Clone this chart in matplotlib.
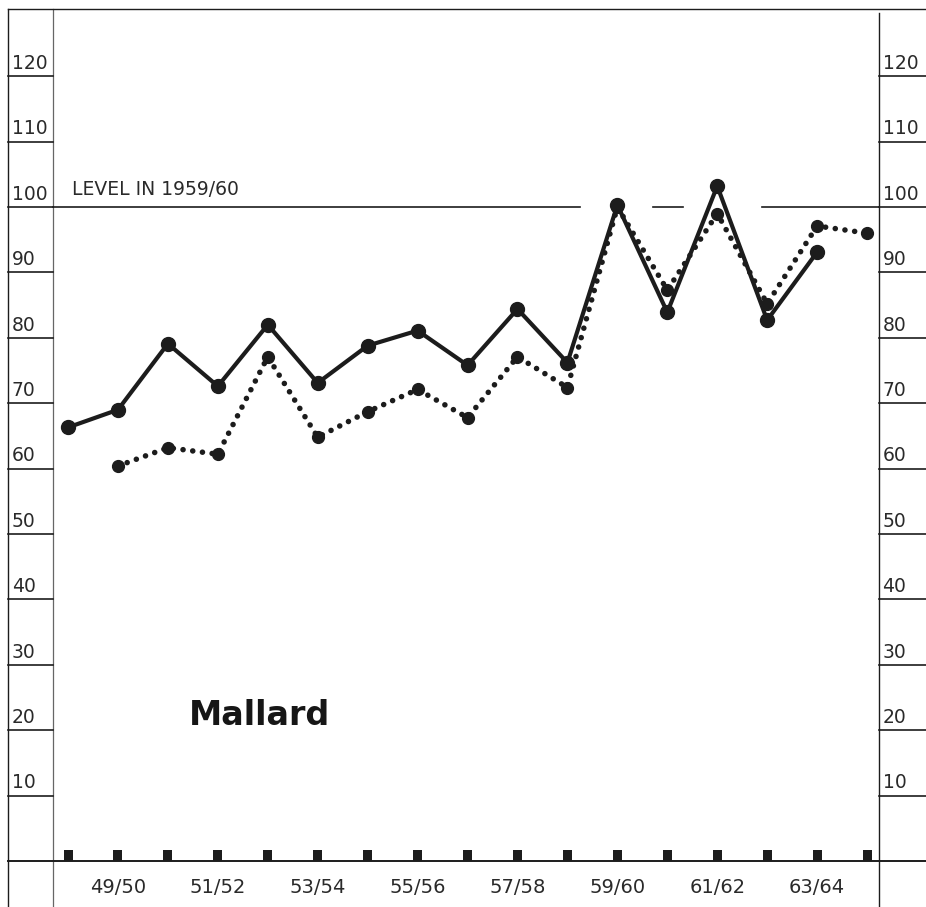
import matplotlib

matplotlib.use("Agg")
import matplotlib.pyplot as plt

# seasons along the bottom (48/49 .. 64/65), labels on every second one
seasons = ["48/49", "49/50", "50/51", "51/52", "52/53", "53/54", "54/55", "55/56", "56/57",
           "57/58", "58/59", "59/60", "60/61", "61/62", "62/63", "63/64", "64/65"]
labelled = ["49/50", "51/52", "53/54", "55/56", "57/58", "59/60", "61/62", "63/64"]

# solid series: 48/49 .. 63/64
solid_vals = [66.3, 69.0, 79.1, 72.6, 82.0, 73.1, 78.8, 81.1, 75.8, 84.4, 76.2,
              100.3, 83.9, 103.2, 82.7, 93.1]
# dotted series: 49/50 .. 64/65
dotted_vals = [60.4, 63.2, 62.2, 77.1, 64.8, 68.7, 72.1, 67.8, 77.1, 72.4,
               100.0, 87.3, 99.0, 85.2, 97.1, 96.0]

y_ticks = [10, 20, 30, 40, 50, 60, 70, 80, 90, 100, 110, 120]

INK = "#1c1c1c"

fig = plt.figure(figsize=(9.26, 9.07), dpi=100)
ax = fig.add_axes([0, 0, 1, 1])
ax.set_xlim(-1.362, 17.18)
ax.set_ylim(-7.03, 131.65)
ax.axis("off")

x_left_out, x_left_in, x_right_in, x_right_out = -1.20, -0.30, 16.24, 17.2
y_top = 130.3
y_bottom = -7.1

# frame of the label columns
ax.plot([x_left_out, x_left_out], [y_bottom, y_top], color=INK, lw=1.0)
ax.plot([x_left_in, x_left_in], [y_bottom, y_top], color="#666666", lw=0.9)
ax.plot([x_right_in, x_right_in], [y_bottom, 129.7], color=INK, lw=1.0)
ax.plot([x_left_out, x_right_out], [y_top, y_top], color=INK, lw=1.0)
ax.plot([x_left_out, x_right_out], [0, 0], color=INK, lw=1.4)

for v in y_ticks:
    ax.plot([x_left_out, x_left_in], [v, v], color=INK, lw=1.2)
    ax.plot([x_right_in, x_right_out], [v, v], color=INK, lw=1.2)
    ax.text(-1.13, v + 0.5, str(v), ha="left", va="bottom", fontsize=13.5, color="#2a2a2a")
    ax.text(16.31, v + 0.5, str(v), ha="left", va="bottom", fontsize=13.5, color="#2a2a2a")

# level of 1959/60, broken where the curves cross it
for x0, x1 in [(x_left_in, 10.25), (11.71, 12.31), (13.9, x_right_in)]:
    ax.plot([x0, x1], [100, 100], color=INK, lw=1.2)
ax.text(0.08, 101.9, "LEVEL IN 1959/60", ha="left", va="baseline", fontsize=13.5, color="#2a2a2a")

# small squares on the base line
xs_all = list(range(len(seasons)))
ax.bar(xs_all, [1.7] * len(seasons), width=0.18, bottom=0, color=INK)

for lab in labelled:
    ax.text(seasons.index(lab), -4.1, lab, ha="center", va="center", fontsize=14, color="#2a2a2a")

xs_solid = list(range(len(solid_vals)))
xs_dot = list(range(1, 1 + len(dotted_vals)))

ax.plot(xs_dot, dotted_vals, color=INK, lw=4.0, linestyle=(0, (0.01, 1.75)),
        dash_capstyle="round", zorder=3)
ax.plot(xs_dot, dotted_vals, linestyle="none", marker="o", markersize=8.5,
        color=INK, zorder=4)
ax.plot(xs_solid, solid_vals, color=INK, lw=3.0, marker="o", markersize=10,
        solid_joinstyle="round", zorder=5)

ax.text(3.84, 22.2, "Mallard", ha="center", va="center", fontsize=24,
        fontweight="bold", family="DejaVu Sans", color="#161616")

fig.savefig("out.png", dpi=100)
plt.close(fig)
